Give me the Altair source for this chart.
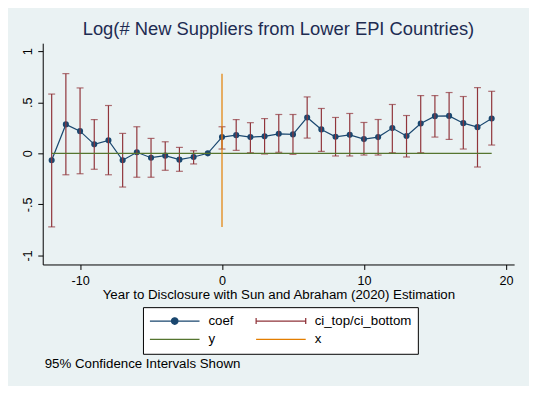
import altair as alt
import pandas as pd

# ---------------- data ----------------
YEARS = [-12, -11, -10, -9, -8, -7, -6, -5, -4, -3, -2, -1,
         0, 1, 2, 3, 4, 5, 6, 7, 8, 9, 10, 11, 12, 13, 14, 15, 16, 17, 18, 19]
COEF = [-0.068, 0.283, 0.217, 0.088, 0.127, -0.068, 0.010, -0.043, -0.023, -0.062, -0.036, 0.0,
        0.159, 0.178, 0.159, 0.166, 0.191, 0.185, 0.351, 0.234, 0.162, 0.181, 0.139, 0.159,
        0.247, 0.169, 0.292, 0.364, 0.366, 0.295, 0.256, 0.341]
CI_TOP = [0.58, 0.78, 0.64, 0.33, 0.468, 0.195, 0.26, 0.146, 0.113, 0.058, 0.025, None,
          0.26, 0.33, 0.30, 0.34, 0.38, 0.38, 0.552, 0.439, 0.351, 0.39, 0.302, 0.331,
          0.478, 0.37, 0.565, 0.565, 0.595, 0.556, 0.643, 0.607]
CI_BOTTOM = [-0.72, -0.21, -0.20, -0.156, -0.21, -0.33, -0.234, -0.234, -0.166, -0.176, -0.104, None,
             0.042, 0.029, 0.006, -0.007, 0.01, -0.01, 0.149, 0.019, -0.026, -0.026, -0.017, -0.017,
             0.006, -0.036, 0.006, 0.159, 0.136, 0.042, -0.134, 0.081]

# legend entries, in the column-by-column order the legend lays them out
LEGEND_LABELS = ["coef", "y", "ci_top/ci_bottom", "x"]
X_TICKS = [-10, 0, 10, 20]
Y_TICKS = [-1, -0.5, 0, 0.5, 1]
TITLE = "Log(# New Suppliers from Lower EPI Countries)"
X_TITLE = "Year to Disclosure with Sun and Abraham (2020) Estimation"
NOTE = "95% Confidence Intervals Shown"

# ---------------- style ----------------
NAVY = "#1A476F"
MAROON = "#90353B"
GREEN = "#55752F"
ORANGE = "#E37E00"
BG = "#EAF2F3"
FONT = "Liberation Sans"

df = pd.DataFrame({"year": YEARS, "coef": COEF, "ci_top": CI_TOP, "ci_bottom": CI_BOTTOM})
ci_df = df.dropna()
zero_df = pd.DataFrame({"x0": [min(YEARS)], "x1": [max(YEARS)], "y": [0.0]})
vline_df = pd.DataFrame({"x": [0], "lo": [ci_df["ci_bottom"].min()], "hi": [ci_df["ci_top"].max()]})
leg_df = pd.DataFrame({"series": LEGEND_LABELS})
note_df = pd.DataFrame({"note": [NOTE]})

x_scale = alt.Scale(domain=[-12.63, 20.58], nice=False, zero=False)
y_scale = alt.Scale(domain=[-1.088, 1.078], nice=False, zero=False)

x_axis = alt.Axis(
    title=X_TITLE, values=X_TICKS, grid=False,
    labelExpr="(datum.value < 0 ? '-' : '') + format(abs(datum.value), 'd')",
    tickSize=5, labelPadding=5.5, titlePadding=0,
    domainColor="black", tickColor="black", labelColor="black", titleColor="black",
    labelFont=FONT, titleFont=FONT, labelFontSize=12.7, titleFontSize=13.4,
    titleFontWeight="normal", labelFlush=False,
)
y_axis = alt.Axis(
    title=None, values=Y_TICKS, grid=True, gridColor=BG, gridWidth=1.3,
    labelExpr="(datum.value < 0 ? '-' : '') + replace(format(abs(datum.value), ''), '0.', '.')",
    labelAngle=270, labelAlign="center", labelBaseline="alphabetic",
    tickSize=5, labelPadding=6.5,
    domainColor="black", tickColor="black", labelColor="black",
    labelFont=FONT, labelFontSize=12.7,
)

def X(field):
    return alt.X(field, type="quantitative", scale=x_scale, axis=x_axis)

def Y(field):
    return alt.Y(field, type="quantitative", scale=y_scale, axis=y_axis)

coef_line = alt.Chart(df).mark_line(color=NAVY, strokeWidth=1.2).encode(x=X("year"), y=Y("coef"))
coef_pts = alt.Chart(df).mark_circle(color=NAVY, size=38, opacity=1).encode(x=X("year"), y=Y("coef"))

ci_rule = alt.Chart(ci_df).mark_rule(color=MAROON, strokeWidth=1.2).encode(
    x=X("year"), y=Y("ci_bottom"), y2="ci_top")
ci_cap_top = alt.Chart(ci_df).mark_tick(color=MAROON, orient="horizontal", size=7, thickness=1.2).encode(
    x=X("year"), y=Y("ci_top"))
ci_cap_bot = alt.Chart(ci_df).mark_tick(color=MAROON, orient="horizontal", size=7, thickness=1.2).encode(
    x=X("year"), y=Y("ci_bottom"))

zero_line = alt.Chart(zero_df).mark_rule(color=GREEN, strokeWidth=1.2).encode(
    x=X("x0"), x2="x1", y=Y("y"))
v_line = alt.Chart(vline_df).mark_rule(color=ORANGE, strokeWidth=1.2).encode(
    x=X("x"), y=Y("lo"), y2="hi")

COEF_PATH = "M-1,0H1M0.13,0A0.13,0.13,0,1,1,-0.13,0A0.13,0.13,0,1,1,0.13,0Z"
CI_PATH = "M-1,-0.12V0.12M-1,0H1M1,-0.12V0.12"
LINE_PATH = "M-1,0H1"

legend = alt.Legend(
    title=None, orient="none", legendX=101, legendY=266, columns=2,
    symbolSize=2500, symbolStrokeWidth=1.3, symbolOpacity=1,
    labelFont=FONT, labelFontSize=13.4, labelColor="black", labelOffset=8,
    columnPadding=21, rowPadding=2.5, padding=6, clipHeight=16,
    fillColor="white", strokeColor="black",
)
legend_layer = alt.Chart(leg_df).mark_point(size=2500, opacity=1, strokeWidth=1.3).encode(
    stroke=alt.Stroke("series:N", scale=alt.Scale(domain=LEGEND_LABELS, range=[NAVY, GREEN, MAROON, ORANGE]),
                      legend=legend),
    fill=alt.Fill("series:N", scale=alt.Scale(domain=LEGEND_LABELS,
                                              range=[NAVY, "transparent", "transparent", "transparent"]),
                  legend=legend),
    shape=alt.Shape("series:N", scale=alt.Scale(domain=LEGEND_LABELS,
                                                range=[COEF_PATH, LINE_PATH, CI_PATH, LINE_PATH]),
                    legend=legend),
).transform_filter("false")

note = alt.Chart(note_df).mark_text(
    align="left", baseline="middle", font=FONT, fontSize=13.4, color="black"
).encode(x=alt.value(2), y=alt.value(323), text="note:N")

chart = alt.layer(
    coef_line, coef_pts, ci_rule, ci_cap_top, ci_cap_bot, zero_line, v_line, legend_layer, note
).properties(
    width=475, height=223,
    title=alt.TitleParams(TITLE, font=FONT, fontSize=18.5, fontWeight="normal",
                          color="#1E2C52", anchor="middle", offset=5),
    padding={"left": 35, "top": 34, "right": 15, "bottom": 121},
    autosize=alt.AutoSizeParams(type="none"),
).configure(background=BG).configure_view(fill="white", stroke="transparent")

chart.save("out.html", embed_options={"renderer": "svg", "actions": False})
